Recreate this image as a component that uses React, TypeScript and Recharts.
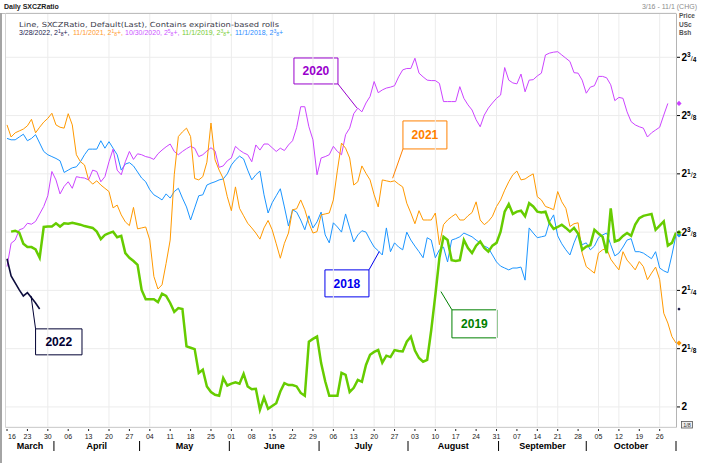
import React from "react";
import { LineChart, Line, XAxis, YAxis, CartesianGrid, ReferenceLine, ReferenceArea, ReferenceDot } from "recharts";

const SANS = "'Liberation Sans', Arial, sans-serif";
const DEJAVU = "'DejaVu Sans', Verdana, sans-serif";

// x axis: trading-day index from Mar 16 (0) to Nov 1 (164)
const DAY_LABELS = ["16","23","30","06","13","20","27","04","11","18","25","01","08","15","22","29","06","13","20","27","03","10","17","24","31","07","14","21","28","05","12","19","26"];
const DAY_TICKS = DAY_LABELS.map((_, k) => k * 5);
const MONTHS = ["March","April","May","June","July","August","September","October"];
const MONTH_BOUNDS = [-0.25, 11.5, 32.5, 54.5, 76.5, 98.3, 120.5, 142, 164];
const MONTH_CENTERS = MONTHS.map((_, k) => (MONTH_BOUNDS[k] + MONTH_BOUNDS[k + 1]) / 2);
const MONTH_TICKS = [...MONTH_CENTERS, ...MONTH_BOUNDS.slice(1)].sort((a, b) => a - b);
const GRID_DAYS = [10, 25, 35, 50, 55, 65, 75, 80, 90, 95, 105, 120, 130, 135, 145, 150, 160];

const Y_TICKS = [2, 2.125, 2.25, 2.375, 2.5, 2.625, 2.75];
const Y_FRACS = [["", ""], ["1", "8"], ["1", "4"], ["3", "8"], ["1", "2"], ["5", "8"], ["3", "4"]];

const START_2018 = 0;
const VALUES_2018 = [
  2.576, 2.573, 2.573, 2.579, 2.585, 2.571, 2.576, 2.584, 2.566, 2.548,
  2.541, 2.537, 2.533, 2.528, 2.503, 2.508, 2.513, 2.515, 2.526, 2.541,
  2.553, 2.553, 2.553, 2.571, 2.555, 2.569, 2.555, 2.541, 2.508, 2.521,
  2.524, 2.517, 2.504, 2.491, 2.483, 2.466, 2.455, 2.450, 2.444, 2.457,
  2.448, 2.462, 2.469, 2.448, 2.429, 2.401, 2.427, 2.453, 2.455, 2.476,
  2.480, 2.483, 2.487, 2.489, 2.500, 2.519, 2.530, 2.538, 2.532, 2.508,
  2.487, 2.498, 2.506, 2.455, 2.416, 2.438, 2.453, 2.468, 2.429, 2.388,
  2.423, 2.418, 2.401, 2.380, 2.410, 2.384, 2.397, 2.418, 2.369, 2.352,
  2.395, 2.386, 2.375, 2.414, 2.384, 2.354, 2.369, 2.378, 2.375, 2.358,
  2.343, 2.335, 2.326, 2.384, 2.333, 2.352, 2.343, 2.337, 2.375, 2.358,
  2.345, 2.333, 2.320, 2.363, 2.358, 2.320, 2.337, 2.343, 2.311, 2.358,
  2.361, 2.365, 2.373, 2.369, 2.365, 2.358, 2.352, 2.345, 2.341, 2.326,
  2.311, 2.302, 2.298, 2.294, 2.298, 2.298, 2.300, 2.272, 2.384, 2.373,
  2.363, 2.365, 2.367, 2.397, 2.412, 2.367, 2.350, 2.337, 2.326, 2.352,
  2.373, 2.348, 2.352, 2.337, 2.345, 2.363, 2.369, 2.373, 2.348, 2.324,
  2.330, 2.343, 2.358, 2.361, 2.333, 2.333, 2.330, 2.324, 2.318, 2.333,
  2.298, 2.292, 2.288, 2.326, 2.369,
];

const START_2019 = 1;
const VALUES_2019 = [
  2.376, 2.378, 2.374, 2.350, 2.343, 2.343, 2.338, 2.320, 2.386,
  2.387, 2.387, 2.394, 2.387, 2.394, 2.393, 2.395, 2.393, 2.391, 2.388,
  2.386, 2.384, 2.376, 2.360, 2.369, 2.373, 2.376, 2.364, 2.367, 2.330,
  2.320, 2.313, 2.305, 2.251, 2.231, 2.231, 2.231, 2.225, 2.243, 2.238,
  2.223, 2.204, 2.212, 2.210, 2.130, 2.127, 2.124, 2.073, 2.080, 2.044,
  2.032, 2.026, 2.024, 2.062, 2.046, 2.050, 2.053, 2.050, 2.071, 2.044,
  2.038, 2.039, 1.994, 2.020, 1.996, 2.002, 2.008, 2.033, 2.051, 2.047,
  2.047, 2.044, 2.030, 2.024, 2.140, 2.146, 2.151, 2.094, 2.055, 2.024,
  2.024, 2.024, 2.073, 2.069, 2.032, 2.041, 2.058, 2.054, 2.090, 2.112,
  2.118, 2.122, 2.095, 2.110, 2.107, 2.122, 2.120, 2.119, 2.140, 2.151,
  2.121, 2.105, 2.097, 2.101, 2.165, 2.240, 2.320, 2.365, 2.358, 2.315,
  2.313, 2.315, 2.358, 2.341, 2.330, 2.346, 2.355, 2.341, 2.333, 2.346,
  2.352, 2.376, 2.419, 2.435, 2.414, 2.419, 2.421, 2.409, 2.437, 2.430,
  2.419, 2.417, 2.419, 2.394, 2.382, 2.386, 2.391, 2.384, 2.376, 2.384,
  2.372, 2.337, 2.344, 2.347, 2.380, 2.372, 2.365, 2.330, 2.426, 2.355,
  2.358, 2.367, 2.373, 2.367, 2.391, 2.405, 2.410, 2.412, 2.414, 2.380,
  2.389, 2.398, 2.346, 2.352, 2.374,
];

const START_2020 = 0;
const VALUES_2020 = [
  2.301, 2.351, 2.358, 2.380, 2.383, 2.394, 2.392, 2.398, 2.414, 2.430,
  2.453, 2.505, 2.487, 2.457, 2.473, 2.483, 2.469, 2.494, 2.492, 2.491,
  2.487, 2.508, 2.505, 2.483, 2.494, 2.526, 2.553, 2.508, 2.498, 2.526,
  2.548, 2.531, 2.543, 2.541, 2.537, 2.535, 2.531, 2.543, 2.551, 2.558,
  2.564, 2.548, 2.541, 2.548, 2.554, 2.559, 2.555, 2.537, 2.541, 2.549,
  2.556, 2.549, 2.514, 2.517, 2.528, 2.534, 2.559, 2.551, 2.545, 2.541,
  2.526, 2.562, 2.551, 2.564, 2.564, 2.556, 2.548, 2.555, 2.550, 2.562,
  2.571, 2.599, 2.644, 2.644, 2.601, 2.573, 2.498, 2.534, 2.537, 2.541,
  2.559, 2.548, 2.541, 2.584, 2.598, 2.629, 2.641, 2.633, 2.652, 2.666,
  2.698, 2.674, 2.680, 2.684, 2.686, 2.689, 2.708, 2.723, 2.726, 2.726,
  2.748, 2.716, 2.708, 2.701, 2.700, 2.700, 2.694, 2.655, 2.655, 2.655,
  2.655, 2.687, 2.662, 2.648, 2.637, 2.616, 2.601, 2.626, 2.641, 2.652,
  2.662, 2.669, 2.728, 2.701, 2.695, 2.693, 2.714, 2.676, 2.701, 2.702,
  2.710, 2.716, 2.755, 2.759, 2.761, 2.762, 2.755, 2.748, 2.741, 2.717,
  2.716, 2.701, 2.673, 2.686, 2.689, 2.709, 2.709, 2.706, 2.691, 2.657,
  2.664, 2.662, 2.633, 2.612, 2.605, 2.601, 2.598, 2.579, 2.588, 2.594,
  2.600, 2.626, 2.651,
];

const START_2021 = 0;
const VALUES_2021 = [
  2.605, 2.579, 2.588, 2.592, 2.596, 2.603, 2.617, 2.588, 2.600, 2.611,
  2.619, 2.630, 2.605, 2.600, 2.598, 2.629, 2.605, 2.541, 2.526, 2.519,
  2.487, 2.478, 2.485, 2.476, 2.469, 2.462, 2.427, 2.433, 2.412, 2.397,
  2.389, 2.428, 2.382, 2.384, 2.386, 2.358, 2.280, 2.253, 2.262, 2.308,
  2.358, 2.498, 2.580, 2.590, 2.598, 2.580, 2.490, 2.487, 2.494, 2.525,
  2.609, 2.530, 2.508, 2.490, 2.451, 2.421, 2.472, 2.426, 2.410, 2.394,
  2.384, 2.373, 2.360, 2.384, 2.400, 2.380, 2.350, 2.319, 2.351, 2.373,
  2.423, 2.425, 2.444, 2.423, 2.394, 2.373, 2.376, 2.412, 2.414, 2.416,
  2.444, 2.508, 2.566, 2.555, 2.534, 2.476, 2.483, 2.517, 2.501, 2.487,
  2.455, 2.429, 2.487, 2.485, 2.483, 2.485, 2.478, 2.472, 2.437, 2.416,
  2.393, 2.421, 2.401, 2.401, 2.401, 2.416, 2.348, 2.391, 2.401, 2.408,
  2.414, 2.401, 2.401, 2.410, 2.417, 2.440, 2.401, 2.391, 2.398, 2.409,
  2.430, 2.444, 2.465, 2.483, 2.498, 2.506, 2.487, 2.489, 2.495, 2.500,
  2.451, 2.444, 2.430, 2.427, 2.423, 2.462, 2.440, 2.426, 2.387, 2.393,
  2.395, 2.330, 2.301, 2.294, 2.287, 2.330, 2.337, 2.340, 2.317, 2.305,
  2.294, 2.333, 2.315, 2.305, 2.294, 2.312, 2.301, 2.273, 2.287, 2.300,
  2.273, 2.201, 2.180, 2.151, 2.137,
];

const START_2022 = 0;
const VALUES_2022 = [2.318, 2.281, 2.266, 2.251, 2.238, 2.245, 2.234, 2.223, 2.210];

const toSeries = (start: number, vals: number[]) => vals.map((v, k) => ({ d: start + k, v }));

const SERIES = [
  { name: "2018", start: START_2018, values: VALUES_2018, color: "#1b95ff", width: 1 },
  { name: "2020", start: START_2020, values: VALUES_2020, color: "#cc44ff", width: 1 },
  { name: "2021", start: START_2021, values: VALUES_2021, color: "#ff9900", width: 1 },
  { name: "2019", start: START_2019, values: VALUES_2019, color: "#66cc00", width: 2.5 },
  { name: "2022", start: START_2022, values: VALUES_2022, color: "#0d0d3d", width: 1.6 },
];

const ANNOTATIONS = [
  { label: "2020", color: "#9900cc", x1: 70.34, x2: 81.13, y1: 2.6928, y2: 2.7485, lead: [[81.13, 2.6928], [85.78, 2.6413]] },
  { label: "2021", color: "#ff8000", x1: 97.06, x2: 107.84, y1: 2.5534, y2: 2.6135, lead: [[97.06, 2.5534], [94.53, 2.4906]] },
  { label: "2018", color: "#0000ee", x1: 77.94, x2: 88.73, y1: 2.2361, y2: 2.2940, lead: [[88.73, 2.294], [91.25, 2.3333]] },
  { label: "2019", color: "#008000", x1: 109.07, x2: 120.1, y1: 2.1482, y2: 2.2083, lead: [[109.07, 2.2083], [106.37, 2.2475]] },
  { label: "2022", color: "#000033", x1: 7.0, x2: 18.38, y1: 2.1118, y2: 2.1675, lead: [[7.0, 2.1675], [5.88, 2.2383]] },
];

const LEGEND_TITLE = "Line, SXCZRatio, Default(Last), Contains expiration-based rolls";
const LEGEND = [
  { text: "3/28/2022, 2", num: "1", den: "8", color: "#1c1c50", x: 19 },
  { text: "11/1/2021, 2", num: "1", den: "8", color: "#ff9a2e", x: 73 },
  { text: "10/30/2020, 2", num: "5", den: "8", color: "#cc55ff", x: 125 },
  { text: "11/1/2019, 2", num: "3", den: "8", color: "#77cc33", x: 182 },
  { text: "11/1/2018, 2", num: "3", den: "8", color: "#2a8cff", x: 235 },
];

const DayTick = (props: any) => {
  const { x, y, payload } = props;
  const k = Math.round(payload.value / 5);
  const first = payload.value === 0;
  return (
    <g>
      <rect x={x - 0.5} y={y + 2} width={1} height={2} fill="#222" />
      <text x={first ? x + 1 : x} y={y + 11.5} textAnchor={first ? "start" : "middle"} fontSize={7} fontFamily={SANS} fill="#222">
        {DAY_LABELS[k]}
      </text>
    </g>
  );
};

const MonthTick = (props: any) => {
  const { x, y, payload } = props;
  const mi = MONTH_CENTERS.findIndex((c) => Math.abs(c - payload.value) < 1e-6);
  if (mi >= 0) {
    return (
      <text x={x} y={y + 9} textAnchor="middle" fontSize={9} fontWeight="bold" fontFamily={SANS} fill="#000">
        {MONTHS[mi]}
      </text>
    );
  }
  return <line x1={x} x2={x} y1={y + 1} y2={y + 11} stroke="#000" strokeWidth={1} />;
};

const PriceTick = (props: any) => {
  const { x, y, payload } = props;
  const k = Y_TICKS.findIndex((t) => Math.abs(t - payload.value) < 1e-6);
  const frac = k >= 0 ? Y_FRACS[k] : ["", ""];
  return (
    <g>
      <line x1={x + 1} x2={x + 4} y1={y} y2={y} stroke="#000" strokeWidth={1} />
      <text x={x + 5.5} y={y + 3.5} fontFamily={SANS} fontWeight="bold" fill="#000">
        <tspan fontSize={10}>2</tspan>
        {frac[0] ? (
          <>
            <tspan fontSize={6.5} dy={-3.5}>{frac[0]}</tspan>
            <tspan fontSize={7} fontWeight="normal" dy={3.5}>/</tspan>
            <tspan fontSize={6.5} dy={1}>{frac[1]}</tspan>
          </>
        ) : null}
      </text>
    </g>
  );
};

const diamond = (color: string, r: number) => (p: any) => (
  <path
    d={`M${p.cx + 3},${p.cy - r} L${p.cx + 3 + r},${p.cy} L${p.cx + 3},${p.cy + r} L${p.cx + 3 - r},${p.cy} Z`}
    fill={color}
  />
);

export default function App() {
  return (
    <div style={{ position: "absolute", left: 0, top: 0, width: 701, height: 463, background: "#fff" }}>
      <div style={{ position: "absolute", left: 0, top: 0 }}>
        <LineChart width={701} height={463} margin={{ top: 13, right: 0, bottom: 0, left: 6 }}>
          <CartesianGrid vertical={false} stroke="#ececec" />
          <XAxis
            xAxisId={0}
            type="number"
            dataKey="d"
            domain={[-0.25, 164]}
            allowDataOverflow
            ticks={DAY_TICKS}
            interval={0}
            tick={<DayTick />}
            tickLine={false}
            tickSize={0}
            tickMargin={0}
            axisLine={false}
            height={13}
          />
          <XAxis
            xAxisId="m"
            type="number"
            dataKey="d"
            domain={[-0.25, 164]}
            allowDataOverflow
            ticks={MONTH_TICKS}
            interval={0}
            tick={<MonthTick />}
            tickLine={false}
            tickSize={0}
            tickMargin={0}
            axisLine={false}
            height={23}
          />
          <YAxis
            orientation="right"
            type="number"
            domain={[1.957, 2.845]}
            allowDataOverflow
            ticks={Y_TICKS}
            interval={0}
            tick={<PriceTick />}
            tickLine={false}
            tickSize={0}
            tickMargin={0}
            axisLine={false}
            width={25}
          />
          {GRID_DAYS.map((d) => (
            <ReferenceLine key={"g" + d} x={d} stroke="#ececec" strokeWidth={1} />
          ))}
          {SERIES.map((s) => (
            <Line
              key={s.name}
              data={toSeries(s.start, s.values)}
              dataKey="v"
              type="linear"
              stroke={s.color}
              strokeWidth={s.width}
              dot={false}
              activeDot={false}
              isAnimationActive={false}
            />
          ))}
          {ANNOTATIONS.map((a) => (
            <ReferenceLine
              key={"l" + a.label}
              segment={[{ x: a.lead[0][0], y: a.lead[0][1] }, { x: a.lead[1][0], y: a.lead[1][1] }]}
              stroke={a.color}
              strokeWidth={1}
              ifOverflow="visible"
            />
          ))}
          {ANNOTATIONS.map((a) => (
            <ReferenceArea
              key={"b" + a.label}
              x1={a.x1}
              x2={a.x2}
              y1={a.y1}
              y2={a.y2}
              fill="#ffffff"
              fillOpacity={1}
              stroke={a.color}
              strokeOpacity={1}
              strokeWidth={1}
              ifOverflow="visible"
              label={{ value: a.label, position: "center", fill: a.color, fontSize: 12, fontWeight: "bold", fontFamily: SANS }}
            />
          ))}
          {SERIES.map((s) => (
            <ReferenceDot
              key={"m" + s.name}
              x={164}
              y={s.values[s.values.length - 1]}
              ifOverflow="visible"
              shape={diamond(s.color, s.name === "2022" ? 1.6 : 2.6)}
            />
          ))}
        </LineChart>
      </div>
      <svg width={701} height={463} style={{ position: "absolute", left: 0, top: 0, pointerEvents: "none" }}>
        <rect x={0} y={13} width={2} height={450} fill="#a4a4a4" />
        <line x1={2} x2={676} y1={13.5} y2={13.5} stroke="#bdbdbd" />
        <line x1={5.5} x2={5.5} y1={13.5} y2={427.5} stroke="#d4d4d4" />
        <line x1={676.5} x2={676.5} y1={13.5} y2={427.5} stroke="#b4b4b4" />
        <line x1={5.5} x2={676.5} y1={427.5} y2={427.5} stroke="#d0d0d0" />
        <text x={4} y={9} fontSize={7} fontWeight="bold" fontFamily={SANS} fill="#222">Daily SXCZRatio</text>
        <text x={697} y={9} fontSize={7} textAnchor="end" fontFamily={SANS} fill="#8c8c8c">3/16 - 11/1 (CHG)</text>
        <text x={679} y={18} fontSize={6.5} fontWeight="bold" fontFamily={SANS} fill="#555">Price</text>
        <text x={679} y={26.5} fontSize={6.5} fontWeight="bold" fontFamily={SANS} fill="#555">USc</text>
        <text x={679} y={35} fontSize={6.5} fontWeight="bold" fontFamily={SANS} fill="#555">Bsh</text>
        <text x={19} y={26.5} fontSize={7} fontFamily={DEJAVU} fill="#3a3a4a" textLength={260} lengthAdjust="spacingAndGlyphs">
          {LEGEND_TITLE}
        </text>
        {LEGEND.map((l, k) => (
          <text key={l.text} x={l.x} y={34.5} fontSize={7} fontFamily={SANS} fill={l.color}>
            {l.text}
            <tspan fontSize={5} dy={-2}>{l.num}</tspan>
            <tspan fontSize={5} dy={3}>{l.den}</tspan>
            <tspan dy={-1}>{k < LEGEND.length - 1 ? "+," : "+"}</tspan>
          </text>
        ))}
        <rect x={681.5} y={421.5} width={11} height={6.5} fill="#eee" stroke="#555" strokeWidth={0.8} />
        <text x={687} y={426.8} fontSize={5.5} textAnchor="middle" fontFamily={SANS} fill="#333">1/8</text>
      </svg>
    </div>
  );
}
